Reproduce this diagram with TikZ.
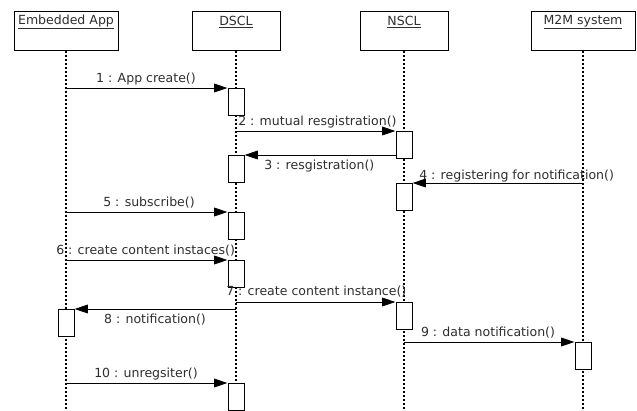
\documentclass[tikz,border=0pt]{standalone}
\usepackage{fontspec}
\setmainfont{DejaVu Sans}
\usetikzlibrary{arrows.meta}
\definecolor{txt}{HTML}{2E2E2E}
\begin{document}
\begin{tikzpicture}[x=0.75pt,y=-0.75pt,
  head/.style={draw, line width=0.75pt, minimum height=29.25pt, inner sep=0pt},
  act/.style={draw, fill=white, line width=0.75pt, minimum width=12pt, minimum height=20.25pt, inner sep=0pt, anchor=north},
  life/.style={line width=0.9pt, dash pattern=on 1.5pt off 1.5pt},
  msg/.style={line width=0.75pt, -{Triangle[length=10pt,width=6.5pt]}},
  lbl/.style={font=\fontsize{9.4}{11}\selectfont, text=txt, inner sep=0pt}]
\useasboundingbox (0,0) rectangle (637,411);
% headers
\node[head, minimum width=78pt] (ea) at (66,30.5) {};
\node[head, minimum width=66pt] (ds) at (236,30.5) {};
\node[head, minimum width=66pt] (ns) at (404,30.5) {};
\node[head, minimum width=78pt] (mm) at (583,30.5) {};
\node[lbl] (eat) at (66,22) {\underline{Embedded App}};
\node[lbl] (dst) at (236,22) {\underline{DSCL}};
\node[lbl] (nst) at (404,22) {\underline{NSCL}};
\node[lbl] (mmt) at (583,22) {\underline{M2M system}};
% lifeline ends
\coordinate (eaend) at (66,411);
\coordinate (dsend) at (236,411);
\coordinate (nsend) at (404,411);
\coordinate (mmend) at (583,411);
\draw[life] (ea.south) -- (eaend);
\draw[life] (ds.south) -- (dsend);
\draw[life] (ns.south) -- (nsend);
\draw[life] (mm.south) -- (mmend);
% activations
\node[act] (d1) at (236,88) {};
\node[act] (n1) at (404,131) {};
\node[act] (d2) at (236,155) {};
\node[act] (n2) at (404,183) {};
\node[act] (d3) at (236,212) {};
\node[act] (d4) at (236,260) {};
\node[act] (n3) at (404,302) {};
\node[act] (e1) at (66,309) {};
\node[act] (m1) at (583,342) {};
\node[act] (d5) at (236,383) {};
% message start points
\coordinate (c1) at (66,88);
\coordinate (c2) at (236,131);
\coordinate (c3) at (396,155);
\coordinate (c4) at (583,183);
\coordinate (c5) at (66,212);
\coordinate (c6) at (66,260);
\coordinate (c7) at (236,302);
\coordinate (c8) at (236,309);
\coordinate (c9) at (404,342);
\coordinate (c10) at (66,383);
\draw[msg] (c1) -- (d1.north west);
\draw[msg] (c2) -- (n1.north west);
\draw[msg] (c3) -- (d2.north east);
\draw[msg] (c4) -- (n2.north east);
\draw[msg] (c5) -- (d3.north west);
\draw[msg] (c6) -- (d4.north west);
\draw[msg] (c7) -- (n3.north west);
\draw[msg] (c8) -- (e1.north east);
\draw[msg] (c9) -- (m1.north west);
\draw[msg] (c10) -- (d5.north west);
% labels
\node[lbl] (l1) at (146,79) {1 : App create()};
\node[lbl, anchor=west] (l2) at (238,122) {2 : mutual resgistration()};
\node[lbl, anchor=west] (l3) at (264,166) {3 : resgistration()};
\node[lbl, anchor=west] (l4) at (419,176) {4 : registering for notification()};
\node[lbl] (l5) at (149,203) {5 : subscribe()};
\node[lbl, anchor=west] (l6) at (56,251) {6 : create content instaces()};
\node[lbl, anchor=west] (l7) at (226,292) {7 : create content instance()};
\node[lbl] (l8) at (155,320) {8 : notification()};
\node[lbl] (l9) at (488,333) {9 : data notification()};
\node[lbl] (l10) at (146,374) {10 : unregsiter()};
\end{tikzpicture}
\end{document}
